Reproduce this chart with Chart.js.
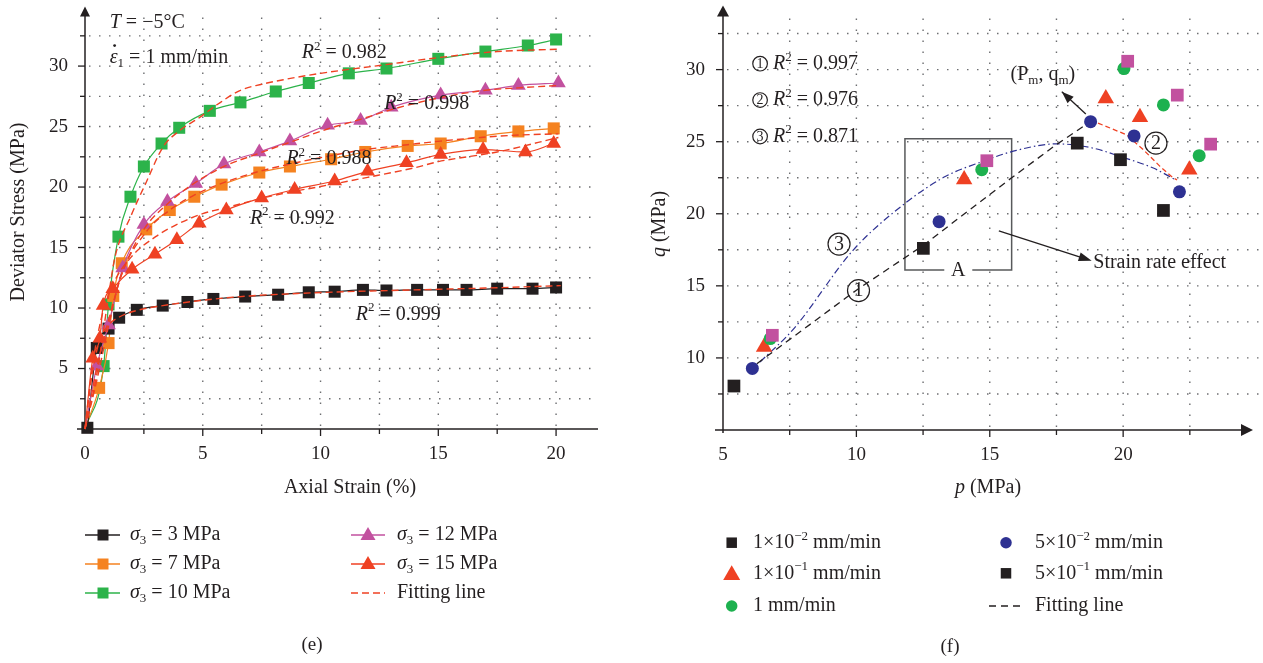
<!DOCTYPE html>
<html><head><meta charset="utf-8">
<script src="https://cdn.jsdelivr.net/npm/chart.js@4.4.0/dist/chart.umd.min.js"></script>
<style>
html,body{margin:0;padding:0;background:#fff;width:1263px;height:663px;overflow:hidden}
#cl{position:absolute;left:0;top:0}
#cr{position:absolute;left:640px;top:0}
</style></head><body>
<canvas id="cl" width="640" height="663"></canvas>
<canvas id="cr" width="623" height="663"></canvas>
<script>
// ---------- Panel (e) data ----------
const strainTicks = [0, 5, 10, 15, 20];
const stressTicks = [5, 10, 15, 20, 25, 30];
const strainGrid = [2.5, 5, 7.5, 10, 12.5, 15, 17.5, 20];
const stressGrid = [2.5, 5, 7.5, 10, 12.5, 15, 17.5, 20, 22.5, 25, 27.5, 30, 32.5];

const s3Strain = [0.1, 0.5, 1.0, 1.45, 2.2, 3.3, 4.35, 5.45, 6.8, 8.2, 9.5, 10.6, 11.8, 12.8, 14.1, 15.2, 16.2, 17.5, 19.0, 20.0];
const s3Stress = [0.1, 6.7, 8.3, 9.2, 9.85, 10.2, 10.5, 10.75, 10.95, 11.1, 11.3, 11.35, 11.5, 11.45, 11.5, 11.5, 11.5, 11.6, 11.6, 11.7];
const s7Strain = [0, 0.6, 1.0, 1.2, 1.56, 2.6, 3.6, 4.64, 5.8, 7.4, 8.7, 10.45, 11.9, 13.7, 15.1, 16.8, 18.4, 19.9];
const s7Stress = [0, 3.4, 7.1, 11.0, 13.7, 16.5, 18.1, 19.2, 20.2, 21.2, 21.7, 22.3, 22.9, 23.4, 23.6, 24.2, 24.6, 24.85];
const s10Strain = [0, 0.79, 1.0, 1.42, 1.93, 2.5, 3.25, 4.0, 5.3, 6.6, 8.1, 9.5, 11.2, 12.8, 15.0, 17.0, 18.8, 20.0];
const s10Stress = [0, 5.2, 10.3, 15.9, 19.2, 21.7, 23.6, 24.9, 26.3, 27.0, 27.9, 28.6, 29.4, 29.8, 30.6, 31.2, 31.7, 32.2];
const s12Strain = [0, 0.5, 1.0, 1.6, 2.5, 3.5, 4.7, 5.9, 7.4, 8.7, 10.3, 11.7, 13.0, 15.1, 17.0, 18.4, 20.1];
const s12Stress = [0, 5.2, 8.6, 13.3, 16.9, 18.8, 20.3, 21.9, 22.9, 23.8, 25.1, 25.5, 26.6, 27.6, 28.0, 28.4, 28.6];
const s15Strain = [0, 0.33, 0.63, 0.77, 1.18, 2.0, 2.97, 3.9, 4.85, 6.0, 7.5, 8.9, 10.6, 12.0, 13.65, 15.1, 16.9, 18.7, 19.9];
const s15Stress = [0, 5.85, 7.5, 10.2, 11.6, 13.2, 14.45, 15.65, 17.0, 18.1, 19.1, 19.8, 20.5, 21.3, 22.0, 22.7, 23.1, 22.9, 23.6];

const fit3Strain = [0, 0.3, 0.6, 1, 1.5, 2.2, 3.3, 4.4, 5.5, 7, 9, 11, 13, 15, 17, 20.2];
const fit3Stress = [0, 4.5, 7.2, 8.6, 9.3, 9.8, 10.2, 10.5, 10.75, 11.0, 11.2, 11.35, 11.45, 11.55, 11.65, 11.85];
const fit7Strain = [0, 0.5, 1, 1.5, 2.6, 3.6, 4.6, 5.8, 7.4, 8.7, 10.45, 11.9, 13.7, 15.1, 16.8, 18.4, 20.1];
const fit7Stress = [0, 4, 8.5, 12.5, 16.3, 18.1, 19.3, 20.3, 21.3, 21.9, 22.6, 23.1, 23.5, 23.8, 24.1, 24.3, 24.4];
const fit10Strain = [0, 0.5, 1.0, 1.26, 1.97, 2.6, 3.31, 4.02, 4.87, 5.6, 6.6, 7.5, 8.5, 10, 12.5, 15, 17.5, 20.2];
const fit10Stress = [0, 4.5, 11, 14.1, 17.7, 20.4, 23.3, 24.67, 25.76, 26.8, 28.0, 28.5, 28.9, 29.4, 30.05, 30.7, 31.2, 31.4];
const fit12Strain = [0, 0.5, 1, 1.6, 2.5, 3.5, 4.7, 5.9, 7.4, 8.7, 10.3, 11.7, 13, 15.1, 17, 18.4, 20.1];
const fit12Stress = [0, 5, 9, 13, 16.5, 18.6, 20.4, 21.7, 22.8, 23.7, 24.8, 25.6, 26.4, 27.4, 28.0, 28.2, 28.4];
const fit15Strain = [0, 0.3, 0.7, 1.2, 2, 3, 4, 5, 6, 8, 10, 12, 14, 15, 17.5, 20.1];
const fit15Stress = [0, 5, 9.2, 12, 14.3, 15.9, 17.0, 17.8, 18.3, 19.3, 20.05, 20.8, 21.6, 22.1, 22.9, 24.1];

// ---------- Panel (f) data ----------
const pTicks = [5, 10, 15, 20];
const qTicks = [10, 15, 20, 25, 30];
const pGrid = [7.5, 10, 12.5, 15, 17.5, 20, 22.5];
const qGrid = [7.5, 10, 12.5, 15, 17.5, 20, 22.5, 25, 27.5, 30, 32.5];

const r1e2P = [5.41, 12.51, 18.28, 19.9, 21.51];
const r1e2Q = [8.05, 17.6, 24.9, 23.75, 20.23];
const r5e2P = [6.1, 13.1, 18.78, 20.41, 22.11];
const r5e2Q = [9.27, 19.45, 26.39, 25.4, 21.52];
const r1e1P = [6.54, 14.04, 19.35, 20.63, 22.48];
const r1e1Q = [10.76, 22.37, 28.0, 26.7, 23.06];
const r5e1P = [6.85, 14.89, 20.17, 22.03, 23.28];
const r5e1Q = [11.57, 23.68, 30.58, 28.23, 24.83];
const r1P = [6.77, 14.7, 20.03, 21.51, 22.85];
const r1Q = [11.34, 23.06, 30.07, 27.55, 24.03];

const fitOneP = [6.27, 10.0, 12.5, 15.82, 17.46, 18.78];
const fitOneQ = [9.6, 14.7, 17.8, 22.5, 24.75, 26.4];
const fitTwoP = [18.78, 20.13, 20.76, 21.38, 21.88, 22.02];
const fitTwoQ = [26.5, 25.48, 24.44, 23.29, 22.48, 22.35];
const fitThreeP = [6.39, 7.64, 9.89, 11.85, 13.35, 14.73, 16.0, 17.5, 18.88, 19.88, 21.13, 21.95];
const fitThreeQ = [9.72, 12.0, 17.5, 20.76, 22.6, 23.63, 24.4, 24.85, 24.55, 23.98, 23.17, 22.37];

// ---------- styling ----------
const SERIF = '"Liberation Serif", "Times New Roman", serif';
const INK = '#231f20';
const C_BLACK = '#231f20', C_ORANGE = '#f58220', C_GREEN = '#2cb34a', C_MAG = '#c2519f',
      C_RED = '#ef4123', C_BLUE = '#2e3192', C_GREEN2 = '#1db14f', C_GRID = '#6d6e71';

function pts(xs, ys) { return xs.map((x, i) => ({x: x, y: ys[i]})); }

function fontFor(f, size) {
  const it = f.indexOf('i') >= 0 ? 'italic ' : '';
  const s = (f.indexOf('sub') >= 0 || f.indexOf('sup') >= 0) ? size * 0.65 : size;
  return it + s + 'px ' + SERIF;
}
function rich(ctx, x, y, parts, size, align) {
  ctx.save();
  ctx.fillStyle = INK; ctx.textBaseline = 'middle'; ctx.textAlign = 'left';
  let w = 0;
  for (const [t, f] of parts) { ctx.font = fontFor(f, size); w += ctx.measureText(t).width; }
  let cx = align === 'center' ? x - w / 2 : (align === 'right' ? x - w : x);
  for (const [t, f] of parts) {
    ctx.font = fontFor(f, size);
    const dy = f.indexOf('sub') >= 0 ? size * 0.28 : (f.indexOf('sup') >= 0 ? -size * 0.33 : 0);
    ctx.fillText(t, cx, y + dy);
    cx += ctx.measureText(t).width;
  }
  ctx.restore();
  return w;
}
function seg(ctx, x1, y1, x2, y2) { ctx.beginPath(); ctx.moveTo(x1, y1); ctx.lineTo(x2, y2); ctx.stroke(); }
function arrowHead(ctx, x1, y1, x2, y2, len, half) {
  const a = Math.atan2(y2 - y1, x2 - x1);
  ctx.beginPath();
  ctx.moveTo(x2, y2);
  ctx.lineTo(x2 - len * Math.cos(a) + half * Math.sin(a), y2 - len * Math.sin(a) - half * Math.cos(a));
  ctx.lineTo(x2 - len * Math.cos(a) - half * Math.sin(a), y2 - len * Math.sin(a) + half * Math.cos(a));
  ctx.closePath(); ctx.fill();
}
function mark(ctx, shape, x, y, s, color) {
  ctx.save(); ctx.fillStyle = color; ctx.beginPath();
  if (shape === 'rect') ctx.rect(x - s / 2, y - s / 2, s, s);
  else if (shape === 'circle') ctx.arc(x, y, s / 2, 0, Math.PI * 2);
  else { const h = s * 0.866; ctx.moveTo(x, y - h * 0.62); ctx.lineTo(x + s / 2, y + h * 0.38); ctx.lineTo(x - s / 2, y + h * 0.38); ctx.closePath(); }
  ctx.fill(); ctx.restore();
}
function circled(ctx, cx, cy, r, digit, size) {
  ctx.save(); ctx.strokeStyle = INK; ctx.lineWidth = 1.2;
  ctx.beginPath(); ctx.arc(cx, cy, r, 0, Math.PI * 2); ctx.stroke();
  ctx.restore();
  rich(ctx, cx, cy + 0.5, [[digit, '']], size, 'center');
}
function drawGrid(ctx, a, xs, ys, xv, yv, rightExt) {
  ctx.save();
  ctx.strokeStyle = C_GRID; ctx.lineWidth = 1.4; ctx.lineCap = 'butt';
  ctx.setLineDash([1.5, 9.5]);
  for (const v of xv) { const px = xs.getPixelForValue(v); seg(ctx, px, a.bottom - 3, px, a.top); }
  ctx.setLineDash([1.5, 8.5]);
  for (const v of yv) { const py = ys.getPixelForValue(v); seg(ctx, a.left + 4, py, a.right + rightExt, py); }
  ctx.restore();
}
function drawTicks(ctx, a, xs, ys, xv, yv) {
  ctx.save(); ctx.strokeStyle = INK; ctx.lineWidth = 1.3;
  for (const v of xv) { const px = xs.getPixelForValue(v); seg(ctx, px, a.bottom, px, a.bottom + (v % 5 === 0 ? 7 : 5)); }
  for (const v of yv) { const py = ys.getPixelForValue(v); seg(ctx, a.left - (v % 5 === 0 ? 7 : 5), py, a.left, py); }
  ctx.restore();
}
const tickFont = {family: SERIF, size: 19};
function fixX(h) { return s => { s.height = h; s.paddingLeft = 0; s.paddingRight = 0; s.paddingTop = 0; s.paddingBottom = 0; }; }
function fixY(w) { return s => { s.width = w; s.paddingLeft = 0; s.paddingRight = 0; s.paddingTop = 0; s.paddingBottom = 0; }; }

// ---------- Panel (e) chart ----------
function lineSet(label, xs, ys, color, shape, r, first) {
  return {label: label, data: pts(xs, ys), showLine: true, borderColor: color, borderWidth: 1.2,
    backgroundColor: color, pointBackgroundColor: color, pointBorderWidth: 0, pointStyle: shape,
    pointRadius: first ? r : (c => c.dataIndex === 0 ? 0 : r), cubicInterpolationMode: 'monotone', clip: false};
}
function fitSet(xs, ys, color, dash, width, mode) {
  return {label: 'Fitting line', data: pts(xs, ys), showLine: true, borderColor: color, borderWidth: width || 1.4,
    borderDash: dash, pointRadius: 0, cubicInterpolationMode: mode || 'monotone', tension: 0, clip: false};
}

const leftDecor = {
  id: 'leftDecor',
  beforeDatasetsDraw(chart) {
    const ctx = chart.ctx, a = chart.chartArea, xs = chart.scales.x, ys = chart.scales.y;
    drawGrid(ctx, a, xs, ys, strainGrid, stressGrid, 0);
    ctx.save(); ctx.strokeStyle = INK; ctx.fillStyle = INK; ctx.lineWidth = 1.5;
    seg(ctx, a.left - 8, a.bottom, a.right, a.bottom);
    seg(ctx, a.left, a.bottom + 1, a.left, a.top + 6);
    arrowHead(ctx, a.left, a.top + 20, a.left, a.top - 2, 10, 5);
    ctx.restore();
    drawTicks(ctx, a, xs, ys, strainGrid, stressGrid);
  },
  afterDraw(chart) {
    const ctx = chart.ctx, xs = chart.scales.x, ys = chart.scales.y;
    const X = v => xs.getPixelForValue(v), Y = v => ys.getPixelForValue(v);
    // titles
    rich(ctx, 350, 488, [['Axial Strain (%)', '']], 20, 'center');
    ctx.save(); ctx.translate(19, 212); ctx.rotate(-Math.PI / 2);
    rich(ctx, 0, 0, [['Deviator Stress (MPa)', '']], 20, 'center'); ctx.restore();
    // annotations
    rich(ctx, X(1.05), Y(33.6), [['T', 'i'], [' = \u22125\u00b0C', '']], 20);
    const x0 = X(1.05), y0 = Y(30.7);
    ctx.save(); ctx.font = 'italic 20px ' + SERIF; const ew = ctx.measureText('\u03b5').width; ctx.restore();
    rich(ctx, x0, y0, [['\u03b5', 'i'], ['1', 'sub'], [' = 1 mm/min', '']], 20);
    ctx.save(); ctx.fillStyle = INK; ctx.beginPath(); ctx.arc(x0 + ew * 0.62, y0 - 12, 1.4, 0, Math.PI * 2); ctx.fill(); ctx.restore();
    const r2 = [[9.2, 31.1, '0.982'], [12.7, 26.85, '0.998'], [8.55, 22.33, '0.988'], [7.0, 17.4, '0.992'], [11.5, 9.47, '0.999']];
    for (const [px, py, t] of r2) rich(ctx, X(px), Y(py), [['R', 'i'], ['2', 'sup'], [' = ' + t, '']], 20);
    // legend
    const rows = [535, 564, 593];
    const left = [[C_BLACK, 'rect', '3'], [C_ORANGE, 'rect', '7'], [C_GREEN, 'rect', '10']];
    ctx.save(); ctx.lineWidth = 1.5;
    left.forEach(([c, s, v], i) => {
      ctx.strokeStyle = c; seg(ctx, 85, rows[i], 120, rows[i]);
      mark(ctx, s, 103, rows[i], 11, c);
      rich(ctx, 130, rows[i], [['\u03c3', 'i'], ['3', 'sub'], [' = ' + v + ' MPa', '']], 20);
    });
    const right = [[C_MAG, '12'], [C_RED, '15']];
    right.forEach(([c, v], i) => {
      ctx.strokeStyle = c; seg(ctx, 351, rows[i], 385, rows[i]);
      mark(ctx, 'triangle', 368, rows[i], 15, c);
      rich(ctx, 397, rows[i], [['\u03c3', 'i'], ['3', 'sub'], [' = ' + v + ' MPa', '']], 20);
    });
    ctx.strokeStyle = C_RED; ctx.setLineDash([7, 4]); seg(ctx, 351, rows[2], 385, rows[2]); ctx.setLineDash([]);
    ctx.restore();
    rich(ctx, 397, rows[2], [['Fitting line', '']], 20);
    rich(ctx, 312, 645, [['(e)', '']], 19, 'center');
  }
};

new Chart(document.getElementById('cl'), {
  type: 'scatter',
  data: {datasets: [
    fitSet(fit3Strain, fit3Stress, C_RED, [7, 4]),
    fitSet(fit7Strain, fit7Stress, C_RED, [7, 4]),
    fitSet(fit10Strain, fit10Stress, C_RED, [7, 4]),
    fitSet(fit12Strain, fit12Stress, C_RED, [7, 4]),
    fitSet(fit15Strain, fit15Stress, C_RED, [7, 4]),
    lineSet('\u03c33 = 15 MPa', s15Strain, s15Stress, C_RED, 'triangle', 8.5, false),
    lineSet('\u03c33 = 12 MPa', s12Strain, s12Stress, C_MAG, 'triangle', 8.5, false),
    lineSet('\u03c33 = 3 MPa', s3Strain, s3Stress, C_BLACK, 'rect', 8.5, true),
    lineSet('\u03c33 = 7 MPa', s7Strain, s7Stress, C_ORANGE, 'rect', 8.5, false),
    lineSet('\u03c33 = 10 MPa', s10Strain, s10Stress, C_GREEN, 'rect', 8.5, false)
  ]},
  options: {
    responsive: false, animation: false, events: [], devicePixelRatio: 1,
    layout: {padding: {left: 0, right: 42, top: 6, bottom: 143}},
    plugins: {legend: {display: false}, tooltip: {enabled: false}},
    scales: {
      x: {type: 'linear', min: 0, max: 21.78, grid: {display: false, drawTicks: false}, border: {display: false},
        ticks: {font: tickFont, color: INK, padding: 14, maxRotation: 0, autoSkip: false},
        afterBuildTicks: s => { s.ticks = strainTicks.map(v => ({value: v})); },
        afterFit: fixX(91)},
      y: {type: 'linear', min: 0, max: 34.76, grid: {display: false, drawTicks: false}, border: {display: false},
        ticks: {font: tickFont, color: INK, padding: 17, autoSkip: false},
        afterBuildTicks: s => { s.ticks = stressTicks.map(v => ({value: v})); },
        afterFit: fixY(85)}
    }
  },
  plugins: [leftDecor]
});

// ---------- Panel (f) chart ----------
function dotSet(label, xs, ys, color, shape, r) {
  return {label: label, data: pts(xs, ys), showLine: false, pointStyle: shape, pointRadius: r,
    pointBackgroundColor: color, pointBorderWidth: 0, backgroundColor: color, clip: false};
}

const rightDecor = {
  id: 'rightDecor',
  beforeDatasetsDraw(chart) {
    const ctx = chart.ctx, a = chart.chartArea, xs = chart.scales.x, ys = chart.scales.y;
    const X = v => xs.getPixelForValue(v), Y = v => ys.getPixelForValue(v);
    drawGrid(ctx, a, xs, ys, pGrid, qGrid, 8);
    ctx.save(); ctx.strokeStyle = INK; ctx.fillStyle = INK; ctx.lineWidth = 1.5;
    seg(ctx, a.left - 8, a.bottom, a.right - 6, a.bottom);
    seg(ctx, a.left, a.bottom + 3, a.left, a.top + 6);
    arrowHead(ctx, a.left, a.top + 20, a.left, a.top - 4, 11, 6);
    arrowHead(ctx, a.right - 20, a.bottom, a.right + 1, a.bottom, 12, 6);
    ctx.restore();
    drawTicks(ctx, a, xs, ys, pGrid, qGrid);
    // box A
    ctx.save(); ctx.strokeStyle = '#58595b'; ctx.lineWidth = 1.5;
    const bl = X(11.82), br = X(15.82), bt = Y(25.2), bb = Y(16.1), bc = (bl + br) / 2;
    ctx.beginPath(); ctx.moveTo(bc - 14, bb); ctx.lineTo(bl, bb); ctx.lineTo(bl, bt); ctx.lineTo(br, bt); ctx.lineTo(br, bb); ctx.lineTo(bc + 14, bb); ctx.stroke();
    ctx.restore();
    rich(ctx, bc, bb + 1, [['A', '']], 20, 'center');
  },
  afterDraw(chart) {
    const ctx = chart.ctx, xs = chart.scales.x, ys = chart.scales.y;
    const X = v => xs.getPixelForValue(v), Y = v => ys.getPixelForValue(v);
    rich(ctx, 348, 488, [['p', 'i'], [' (MPa)', '']], 20, 'center');
    ctx.save(); ctx.translate(20, 224); ctx.rotate(-Math.PI / 2);
    rich(ctx, 0, 0, [['q', 'i'], [' (MPa)', '']], 20, 'center'); ctx.restore();
    // R2 list
    const lst = [['1', 30.41, '0.997'], ['2', 27.89, '0.976'], ['3', 25.36, '0.871']];
    for (const [d, q, t] of lst) {
      circled(ctx, X(6.39), Y(q), 7.3, d, 14);
      rich(ctx, X(6.39) + 13, Y(q), [['R', 'i'], ['2', 'sup'], [' = ' + t, '']], 20);
    }
    // circled curve labels
    circled(ctx, X(21.23), Y(24.9), 11, '2', 20);
    circled(ctx, X(9.35), Y(17.9), 11, '3', 20);
    circled(ctx, X(10.08), Y(14.67), 11, '1', 20);
    // arrows
    ctx.save(); ctx.strokeStyle = INK; ctx.fillStyle = INK; ctx.lineWidth = 1.3;
    let x1 = X(15.34), y1 = Y(18.81), x2 = X(18.82), y2 = Y(16.74);
    seg(ctx, x1, y1, x2 - 6, y2 - 2); arrowHead(ctx, x1, y1, x2, y2, 13, 4.5);
    x1 = X(18.6); y1 = Y(26.92); x2 = X(17.7); y2 = Y(28.46);
    seg(ctx, x1, y1, x2, y2); arrowHead(ctx, x1, y1, x2, y2, 12, 4.5);
    ctx.restore();
    rich(ctx, X(18.88), Y(16.62), [['Strain rate effect', '']], 20);
    rich(ctx, X(16.99), Y(29.66), [['(P', ''], ['m', 'sub'], [', q', ''], ['m', 'sub'], [')', '']], 20, 'center');
    // legend
    const rows = [542.7, 573.3, 606];
    mark(ctx, 'rect', 91.7, rows[0], 10.5, C_BLACK);
    rich(ctx, 113, rows[0], [['1\u00d710', ''], ['\u22122', 'sup'], [' mm/min', '']], 20);
    mark(ctx, 'triangle', 91.7, rows[1] + 1, 17, C_RED);
    rich(ctx, 113, rows[1], [['1\u00d710', ''], ['\u22121', 'sup'], [' mm/min', '']], 20);
    mark(ctx, 'circle', 91.7, rows[2], 11.5, C_GREEN2);
    rich(ctx, 113, rows[2], [['1 mm/min', '']], 20);
    mark(ctx, 'circle', 366, rows[0], 11.5, C_BLUE);
    rich(ctx, 395, rows[0], [['5\u00d710', ''], ['\u22122', 'sup'], [' mm/min', '']], 20);
    mark(ctx, 'rect', 366, rows[1], 10.5, C_BLACK);
    rich(ctx, 395, rows[1], [['5\u00d710', ''], ['\u22121', 'sup'], [' mm/min', '']], 20);
    ctx.save(); ctx.strokeStyle = INK; ctx.lineWidth = 1.4; ctx.setLineDash([7, 5]);
    seg(ctx, 349, rows[2], 384, rows[2]); ctx.restore();
    rich(ctx, 395, rows[2], [['Fitting line', '']], 20);
    rich(ctx, 310, 647, [['(f)', '']], 19, 'center');
  }
};

new Chart(document.getElementById('cr'), {
  type: 'scatter',
  data: {datasets: [
    dotSet('5\u00d710\u22122 mm/min', r5e2P, r5e2Q, C_BLUE, 'circle', 6.5),
    dotSet('5\u00d710\u22121 mm/min', r5e1P, r5e1Q, C_MAG, 'rect', 9),
    dotSet('1 mm/min', r1P, r1Q, C_GREEN2, 'circle', 6.5),
    dotSet('1\u00d710\u22121 mm/min', r1e1P, r1e1Q, C_RED, 'triangle', 9.5),
    dotSet('1\u00d710\u22122 mm/min', r1e2P, r1e2Q, C_BLACK, 'rect', 9),
    fitSet(fitOneP, fitOneQ, INK, [7, 5], 1.3, 'default'),
    fitSet(fitTwoP, fitTwoQ, C_RED, [5, 3], 1.3, 'default'),
    fitSet(fitThreeP, fitThreeQ, C_BLUE, [7, 3, 1.5, 3], 1.2, 'monotone')
  ]},
  options: {
    responsive: false, animation: false, events: [], devicePixelRatio: 1,
    layout: {padding: {left: 0, right: 11, top: 7, bottom: 143}},
    plugins: {legend: {display: false}, tooltip: {enabled: false}},
    scales: {
      x: {type: 'linear', min: 5, max: 24.83, grid: {display: false, drawTicks: false}, border: {display: false},
        ticks: {font: tickFont, color: INK, padding: 14, maxRotation: 0, autoSkip: false},
        afterBuildTicks: s => { s.ticks = pTicks.map(v => ({value: v})); },
        afterFit: fixX(90)},
      y: {type: 'linear', min: 5, max: 34.17, grid: {display: false, drawTicks: false}, border: {display: false},
        ticks: {font: tickFont, color: INK, padding: 18, autoSkip: false},
        afterBuildTicks: s => { s.ticks = qTicks.map(v => ({value: v})); },
        afterFit: fixY(83)}
    }
  },
  plugins: [rightDecor]
});
</script>
</body></html>
